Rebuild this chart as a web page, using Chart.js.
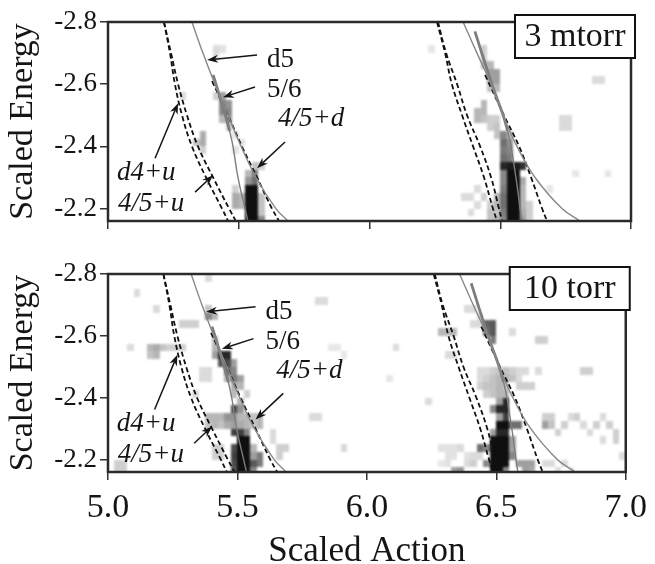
<!DOCTYPE html>
<html>
<head>
<meta charset="utf-8">
<script src="https://cdn.jsdelivr.net/npm/chart.js@4.4.1/dist/chart.umd.min.js"></script>
<style>
  body { margin: 0; background: #fff; }
  .panel { position: relative; width: 655px; }
  #panel-top { height: 250px; }
  #panel-bottom { height: 314px; }
</style>
</head>
<body>
<div class="panel" id="panel-top"><canvas id="chart-3mtorr"></canvas></div>
<div class="panel" id="panel-bottom"><canvas id="chart-10torr"></canvas></div>
<script>
const xTicks = [5.0, 5.5, 6.0, 6.5, 7.0];
const yTicks = [-2.8, -2.6, -2.4, -2.2];
const binAction = 0.025;
const binEnergy = 0.025;

// theory curves, action read at these energies
const curveEnergy = [-2.8, -2.7, -2.6, -2.5, -2.4, -2.3, -2.2, -2.16];
const d4uLeft  = [5.214, 5.237, 5.256, 5.283, 5.321, 5.375, 5.436, 5.459];
const f45uLeft = [5.214, 5.241, 5.268, 5.302, 5.344, 5.402, 5.463, 5.489];
const d5Left   = [5.321, 5.363, 5.409, 5.459, 5.509, 5.566, 5.642, 5.688];
const d4uRight  = [6.258, 6.289, 6.315, 6.354, 6.396, 6.438, 6.472, 6.488];
const f45uRight = [6.262, 6.293, 6.335, 6.373, 6.423, 6.465, 6.495, 6.507];
const d5Right   = [6.358, 6.411, 6.465, 6.511, 6.564, 6.633, 6.736, 6.805];

const f56EnergyLeft = [-2.63, -2.6, -2.5, -2.45, -2.4, -2.3, -2.2, -2.16];
const f56Left = [5.402, 5.413, 5.449, 5.465, 5.478, 5.497, 5.524, 5.535];
const f56EnergyRight = [-2.77, -2.6, -2.5, -2.45, -2.4, -2.3, -2.2, -2.16];
const f56Right = [6.403, 6.468, 6.511, 6.528, 6.541, 6.560, 6.576, 6.583];
const f45dEnergyLeft = [-2.61, -2.5, -2.4, -2.3, -2.2, -2.16];
const f45dLeft = [5.398, 5.459, 5.512, 5.570, 5.627, 5.654];
const f45dEnergyRight = [-2.63, -2.5, -2.4, -2.3, -2.2, -2.16];
const f45dRight = [6.442, 6.514, 6.572, 6.618, 6.660, 6.679];

// recurrence map cells: [action, energy, level 0..1]
const cells3mtorr = [
  [5.525,-2.275,1],[5.525,-2.25,1],[5.525,-2.225,1],[5.525,-2.2,1],[5.525,-2.175,1],
  [5.55,-2.275,1],[5.55,-2.25,1],[5.55,-2.225,1],[5.55,-2.2,1],[5.55,-2.175,1],
  [5.55,-2.325,.55],[5.55,-2.3,.6],[5.525,-2.3,.45],[5.525,-2.325,.3],
  [5.5,-2.25,.3],[5.5,-2.225,.3],[5.475,-2.25,.35],[5.475,-2.225,.35],[5.475,-2.275,.2],
  [5.575,-2.25,.25],[5.575,-2.225,.25],[5.575,-2.2,.25],[5.575,-2.175,.5],
  [5.425,-2.575,.4],[5.425,-2.55,.5],[5.425,-2.525,.5],[5.45,-2.55,.45],[5.45,-2.525,.5],
  [5.45,-2.5,.45],[5.425,-2.5,.3],[5.45,-2.475,.25],[5.4,-2.575,.2],
  [5.4,-2.725,.15],[5.4,-2.7,.15],[5.425,-2.725,.12],
  [5.35,-2.45,.35],[5.35,-2.425,.35],[5.325,-2.425,.25],[5.35,-2.4,.2],
  [5.275,-2.575,.15],
  [5.475,-2.45,.12],[5.5,-2.425,.12],[5.475,-2.4,.12],
  [5.575,-2.35,.2],[5.55,-2.35,.25],
  [6.525,-2.325,1],[6.525,-2.3,1],[6.525,-2.275,1],[6.525,-2.25,1],[6.525,-2.225,1],[6.525,-2.2,1],[6.525,-2.175,1],
  [6.55,-2.325,1],[6.55,-2.3,1],[6.55,-2.275,1],[6.55,-2.25,1],[6.55,-2.225,1],[6.55,-2.2,1],[6.55,-2.175,1],
  [6.5,-2.35,.9],[6.525,-2.35,.95],[6.55,-2.35,.95],[6.575,-2.35,.85],
  [6.5,-2.325,.5],[6.5,-2.3,.5],[6.5,-2.275,.55],[6.5,-2.25,.6],[6.5,-2.225,.6],[6.5,-2.2,.55],[6.5,-2.175,.5],
  [6.575,-2.3,.35],[6.575,-2.275,.3],[6.575,-2.25,.3],[6.575,-2.225,.3],[6.575,-2.2,.35],[6.575,-2.175,.4],
  [6.5,-2.45,.5],[6.5,-2.425,.6],[6.5,-2.4,.55],[6.5,-2.375,.6],
  [6.525,-2.425,.45],[6.525,-2.4,.5],[6.525,-2.375,.55],[6.525,-2.45,.3],
  [6.4,-2.525,.3],[6.425,-2.525,.3],[6.4,-2.5,.3],[6.425,-2.5,.25],[6.45,-2.5,.2],[6.475,-2.5,.2],
  [6.45,-2.475,.2],[6.475,-2.475,.25],[6.475,-2.45,.25],
  [6.425,-2.675,.3],[6.45,-2.675,.3],[6.45,-2.65,.4],[6.475,-2.65,.4],[6.45,-2.625,.4],[6.475,-2.625,.4],
  [6.475,-2.6,.3],[6.45,-2.6,.25],[6.425,-2.55,.3],[6.425,-2.7,.2],[6.425,-2.725,.2],
  [6.35,-2.25,.15],[6.375,-2.25,.15],[6.4,-2.275,.15],[6.425,-2.25,.2],[6.45,-2.225,.2],[6.4,-2.225,.15],
  [6.475,-2.25,.3],[6.475,-2.225,.3],[6.45,-2.2,.25],[6.475,-2.2,.25],[6.45,-2.175,.25],[6.475,-2.175,.3],[6.375,-2.2,.15],
  [6.6,-2.225,.2],[6.6,-2.2,.2],[6.6,-2.175,.2],
  [6.675,-2.275,.1],
  [6.725,-2.5,.15],[6.75,-2.5,.15],[6.725,-2.475,.15],[6.75,-2.475,.15],
  [6.85,-2.625,.15],[6.875,-2.625,.15],
  [6.9,-2.325,.1],[6.775,-2.325,.1],
  [6.225,-2.725,.1]
];

const cells10torr = [
  [5.5,-2.275,1],[5.5,-2.25,1],[5.5,-2.225,1],[5.5,-2.2,1],[5.5,-2.175,1],
  [5.525,-2.275,1],[5.525,-2.25,1],[5.525,-2.225,1],[5.525,-2.2,1],[5.525,-2.175,1],
  [5.475,-2.25,.75],[5.475,-2.225,.8],[5.475,-2.2,.75],[5.475,-2.175,.7],
  [5.55,-2.2,.7],[5.55,-2.225,.4],[5.55,-2.175,.5],[5.55,-2.25,.3],
  [5.475,-2.3,.8],[5.5,-2.3,.8],[5.525,-2.3,.5],
  [5.475,-2.375,.75],[5.5,-2.375,.45],
  [5.425,-2.35,.3],[5.45,-2.35,.45],[5.475,-2.35,.45],[5.5,-2.35,.3],[5.525,-2.35,.3],[5.55,-2.35,.25],[5.575,-2.35,.3],
  [5.425,-2.325,.25],[5.45,-2.325,.35],[5.475,-2.325,.4],[5.5,-2.325,.35],[5.525,-2.325,.3],[5.55,-2.325,.25],[5.575,-2.325,.3],
  [5.425,-2.55,.9],[5.45,-2.55,.9],[5.4,-2.55,.4],
  [5.425,-2.525,.7],[5.45,-2.525,.75],[5.475,-2.525,.4],
  [5.45,-2.5,.6],[5.475,-2.5,.5],[5.475,-2.475,.55],[5.5,-2.475,.4],[5.45,-2.475,.35],
  [5.475,-2.45,.35],[5.5,-2.45,.3],[5.475,-2.425,.3],[5.5,-2.4,.3],
  [5.4,-2.6,.3],[5.4,-2.575,.3],
  [5.375,-2.7,.25],[5.375,-2.675,.5],[5.4,-2.675,.3],
  [5.375,-2.8,.15],
  [5.3,-2.65,.2],[5.325,-2.65,.2],[5.275,-2.65,.2],
  [5.175,-2.7,.15],[5.1,-2.75,.15],
  [5.15,-2.575,.3],[5.175,-2.575,.35],[5.2,-2.575,.25],[5.225,-2.575,.2],[5.25,-2.575,.2],[5.15,-2.55,.25],[5.175,-2.55,.3],
  [5.075,-2.575,.15],[5.275,-2.575,.2],
  [5.35,-2.5,.15],[5.375,-2.5,.15],[5.35,-2.475,.15],[5.375,-2.475,.15],
  [5.375,-2.35,.3],[5.4,-2.35,.3],[5.375,-2.325,.25],[5.4,-2.325,.3],
  [5.325,-2.425,.15],
  [5.025,-2.2,.2],[5.05,-2.2,.2],[5.025,-2.175,.2],[5.05,-2.175,.2],
  [5.4,-2.25,.2],[5.425,-2.25,.2],[5.4,-2.225,.2],[5.425,-2.225,.2],
  [5.575,-2.225,.55],[5.575,-2.2,.55],
  [5.65,-2.25,.2],[5.675,-2.25,.2],[5.65,-2.225,.2],
  [5.775,-2.35,.15],[5.8,-2.35,.15],
  [5.8,-2.725,.15],[5.825,-2.725,.15],
  [5.525,-2.425,.2],[5.625,-2.3,.15],[5.625,-2.275,.15],
  [6.525,-2.4,.9],[6.5,-2.4,.4],
  [6.5,-2.375,.9],[6.525,-2.375,.9],[6.475,-2.375,.5],
  [6.525,-2.35,.8],[6.5,-2.35,.4],
  [6.5,-2.325,1],[6.525,-2.325,1],[6.55,-2.325,.6],[6.575,-2.325,.6],
  [6.5,-2.3,.9],[6.525,-2.3,.9],[6.475,-2.3,.4],
  [6.475,-2.275,1],[6.5,-2.275,1],[6.525,-2.275,1],
  [6.475,-2.25,1],[6.5,-2.25,1],[6.525,-2.25,1],
  [6.475,-2.225,1],[6.5,-2.225,1],[6.525,-2.225,1],
  [6.475,-2.2,1],[6.5,-2.2,1],[6.525,-2.2,1],
  [6.55,-2.275,.4],[6.55,-2.25,.4],
  [6.475,-2.175,1],[6.5,-2.175,1],[6.525,-2.175,.5],
  [6.425,-2.25,.6],[6.45,-2.25,.5],[6.45,-2.2,.5],
  [6.575,-2.2,.4],[6.55,-2.225,.5],
  [6.6,-2.2,.4],[6.625,-2.2,.4],[6.6,-2.175,.4],[6.625,-2.175,.35],
  [6.35,-2.175,.45],[6.325,-2.175,.4],
  [6.275,-2.25,.12],[6.3,-2.25,.12],[6.325,-2.25,.12],[6.35,-2.25,.15],[6.3,-2.225,.12],[6.325,-2.225,.12],
  [6.375,-2.225,.12],[6.4,-2.225,.15],[6.425,-2.225,.15],[6.3,-2.2,.12],[6.375,-2.2,.15],[6.4,-2.2,.2],[6.275,-2.2,.1],
  [6.575,-2.45,.2],[6.6,-2.45,.2],[6.625,-2.45,.2],
  [6.425,-2.5,.15],[6.45,-2.5,.15],[6.475,-2.5,.2],[6.5,-2.5,.25],[6.525,-2.5,.25],[6.55,-2.5,.2],[6.575,-2.5,.15],[6.6,-2.5,.15],
  [6.425,-2.475,.15],[6.45,-2.475,.2],[6.475,-2.475,.25],[6.5,-2.475,.3],[6.525,-2.475,.3],[6.55,-2.475,.25],[6.575,-2.475,.15],
  [6.425,-2.45,.2],[6.45,-2.45,.25],[6.475,-2.45,.25],[6.5,-2.45,.3],[6.525,-2.45,.25],
  [6.45,-2.425,.2],[6.475,-2.425,.25],[6.5,-2.425,.3],[6.525,-2.425,.3],
  [6.45,-2.65,.65],[6.475,-2.65,.7],[6.45,-2.625,.6],[6.475,-2.625,.7],[6.475,-2.6,.55],[6.4,-2.65,.15],[6.425,-2.65,.15],
  [6.275,-2.625,.3],[6.3,-2.625,.3],[6.325,-2.625,.3],
  [6.55,-2.625,.15],[6.65,-2.6,.2],[6.675,-2.6,.2],
  [6.3,-2.55,.15],[6.325,-2.55,.15],
  [6.375,-2.7,.15],[6.4,-2.7,.15],[6.425,-2.675,.15],
  [6.825,-2.5,.2],[6.85,-2.5,.2],[6.65,-2.5,.15],
  [6.225,-2.4,.15],
  [6.675,-2.35,.2],[6.7,-2.35,.2],[6.675,-2.325,.4],[6.7,-2.325,.25],[6.725,-2.3,.2],[6.75,-2.325,.2],
  [6.775,-2.35,.15],[6.8,-2.35,.2],[6.825,-2.325,.15],[6.875,-2.325,.2],[6.9,-2.35,.15],[6.925,-2.325,.2],
  [6.95,-2.3,.2],[6.85,-2.3,.15],[6.9,-2.275,.15],[6.95,-2.275,.2],
  [6.675,-2.2,.15],[6.7,-2.2,.15],[6.725,-2.175,.15],[6.75,-2.2,.15],[6.775,-2.175,.12],
  [6.975,-2.225,.15],
  [6.1,-2.575,.15],[6.075,-2.475,.1],[5.9,-2.25,.15],[5.85,-2.575,.1],[5.875,-2.575,.1],[5.9,-2.55,.1]
];

// labels with arrows (anchor and arrow ends in data units)
const notes = [
  {text: 'd5',    italic: false, at: [5.608, -2.655], from: [5.570, -2.694], to: [5.379, -2.678]},
  {text: '5/6',   italic: false, at: [5.608, -2.558], from: [5.562, -2.591], to: [5.440, -2.558]},
  {text: '4/5+d', italic: true,  at: [5.650, -2.465], from: [5.677, -2.414], to: [5.570, -2.330]},
  {text: 'd4+u',  italic: true,  at: [5.034, -2.291], from: [5.180, -2.362], to: [5.268, -2.539]},
  {text: '4/5+u', italic: true,  at: [5.038, -2.191], from: [5.333, -2.253], to: [5.402, -2.307]}
];

const serif = "'Liberation Serif', 'Times New Roman', serif";
const ink = '#151515';

function curve(actions, energies, style) {
  return Object.assign({
    data: actions.map((a, i) => ({x: a, y: energies[i]})),
    showLine: true, pointRadius: 0, tension: 0.4, clip: 0, fill: false
  }, style);
}
const dashed = {borderColor: '#111', borderWidth: 1.8, borderDash: [5, 3]};
const thin = {borderColor: '#888', borderWidth: 1.4};
// 5/6 line: heavy in its upper part, thin below
const thick = {
  borderColor: '#7d7d7d', borderWidth: 1.4,
  segment: {borderWidth: c => (c.p0.parsed.y < -2.46 ? 2.8 : 1.4)}
};

function arrow(ctx, x0, y0, x1, y1) {
  const ang = Math.atan2(y1 - y0, x1 - x0);
  const c = Math.cos(ang), s = Math.sin(ang);
  const head = 11, half = 4;
  ctx.beginPath();
  ctx.moveTo(x0, y0);
  ctx.lineTo(x1 - c * head * 0.7, y1 - s * head * 0.7);
  ctx.stroke();
  ctx.beginPath();
  ctx.moveTo(x1, y1);
  ctx.lineTo(x1 - c * head + s * half, y1 - s * head - c * half);
  ctx.lineTo(x1 - c * head * 0.7, y1 - s * head * 0.7);
  ctx.lineTo(x1 - c * head - s * half, y1 - s * head + c * half);
  ctx.closePath();
  ctx.fill();
}

const mapPlugin = {
  id: 'recmap',
  beforeDatasetsDraw(chart, args, opts) {
    const {ctx, chartArea: a, scales: {x, y}} = chart;
    // paint cells on a scratch layer first, then soften it as one image
    const layer = document.createElement('canvas');
    layer.width = chart.width;
    layer.height = chart.height;
    const lc = layer.getContext('2d');
    opts.cells.forEach(([act, en, lvl]) => {
      const x0 = Math.round(x.getPixelForValue(act));
      const x1 = Math.round(x.getPixelForValue(act + binAction));
      const y0 = Math.round(y.getPixelForValue(en));
      const y1 = Math.round(y.getPixelForValue(en + binEnergy));
      const g = Math.round(255 - lvl * 240);
      lc.fillStyle = 'rgb(' + g + ',' + g + ',' + g + ')';
      lc.fillRect(x0, y0, x1 - x0, y1 - y0);
    });
    ctx.save();
    ctx.beginPath();
    ctx.rect(a.left, a.top, a.width, a.height);
    ctx.clip();
    ctx.filter = 'blur(0.8px)';
    ctx.drawImage(layer, 0, 0, chart.width, chart.height);
    ctx.restore();
  },
  afterDatasetsDraw(chart) {
    const {ctx, chartArea: a, scales: {x, y}} = chart;
    ctx.save();
    ctx.strokeStyle = '#2a2a2a';
    ctx.lineWidth = 2.5;
    ctx.strokeRect(a.left, a.top, a.width, a.height);
    ctx.fillStyle = ink;
    ctx.strokeStyle = ink;
    ctx.lineWidth = 1.5;
    ctx.textAlign = 'left';
    ctx.textBaseline = 'alphabetic';
    notes.forEach(n => {
      ctx.font = (n.italic ? 'italic ' : '') + '27px ' + serif;
      ctx.fillText(n.text, x.getPixelForValue(n.at[0]), y.getPixelForValue(n.at[1]));
      arrow(ctx, x.getPixelForValue(n.from[0]), y.getPixelForValue(n.from[1]),
                 x.getPixelForValue(n.to[0]), y.getPixelForValue(n.to[1]));
    });
    ctx.restore();
  },
  afterDraw(chart, args, opts) {
    const {ctx, chartArea: a} = chart;
    const bx = a.right - 116, by = a.top - 7, bw = 120, bh = 43;
    ctx.save();
    ctx.fillStyle = '#fff';
    ctx.fillRect(bx, by, bw, bh);
    ctx.strokeStyle = '#111';
    ctx.lineWidth = 2;
    ctx.strokeRect(bx, by, bw, bh);
    ctx.fillStyle = ink;
    ctx.font = '34px ' + serif;
    ctx.textAlign = 'center';
    ctx.textBaseline = 'middle';
    ctx.fillText(opts.label, bx + bw / 2, by + bh / 2 + 1);
    ctx.restore();
  }
};

function makePanel(canvasId, cells, label, isBottom) {
  const datasets = [
    curve(d5Left, curveEnergy, thin),
    curve(d5Right, curveEnergy, thin),
    curve(f56Left, f56EnergyLeft, thick),
    curve(f56Right, f56EnergyRight, thick),
    curve(d4uLeft, curveEnergy, dashed),
    curve(f45uLeft, curveEnergy, dashed),
    curve(d4uRight, curveEnergy, dashed),
    curve(f45uRight, curveEnergy, dashed),
    curve(f45dLeft, f45dEnergyLeft, dashed),
    curve(f45dRight, f45dEnergyRight, dashed)
  ];
  return new Chart(document.getElementById(canvasId), {
    type: 'scatter',
    data: {datasets: datasets},
    options: {
      responsive: true,
      maintainAspectRatio: false,
      animation: false,
      events: [],
      layout: {padding: {top: isBottom ? 24 : 22, right: 24, left: 0, bottom: 0}},
      plugins: {
        legend: {display: false},
        tooltip: {enabled: false},
        recmap: {cells: cells, label: label}
      },
      scales: {
        x: {
          type: 'linear',
          min: 5.0,
          max: 7.0,
          afterBuildTicks: s => { s.ticks = xTicks.map(v => ({value: v})); },
          afterFit: s => { s.height = isBottom ? 92 : 29; },
          border: {display: false},
          grid: {drawOnChartArea: false, drawTicks: true, tickLength: 8, color: '#333', lineWidth: 1.5},
          ticks: {
            display: isBottom,
            padding: 8,
            color: ink,
            font: {family: serif, size: 34},
            callback: v => v.toFixed(1)
          },
          title: {
            display: isBottom,
            text: 'Scaled Action',
            color: ink,
            font: {family: serif, size: 35, lineHeight: 0.8},
            padding: {top: 0, bottom: -2}
          }
        },
        y: {
          type: 'linear',
          reverse: true,
          min: -2.8,
          max: -2.16,
          afterBuildTicks: s => { s.ticks = yTicks.map(v => ({value: v})); },
          afterFit: s => { s.width = 108; },
          border: {display: false},
          grid: {drawOnChartArea: false, drawTicks: true, tickLength: 8, color: '#333', lineWidth: 1.5},
          ticks: {
            padding: 3,
            color: ink,
            font: {family: serif, size: 27},
            callback: v => v.toFixed(1)
          },
          title: {
            display: true,
            text: 'Scaled Energy',
            color: ink,
            font: {family: serif, size: 34, lineHeight: 1},
            padding: {top: 6, bottom: 0}
          }
        }
      }
    },
    plugins: [mapPlugin]
  });
}

makePanel('chart-3mtorr', cells3mtorr, '3 mtorr', false);
makePanel('chart-10torr', cells10torr, '10 torr', true);
</script>
</body>
</html>
